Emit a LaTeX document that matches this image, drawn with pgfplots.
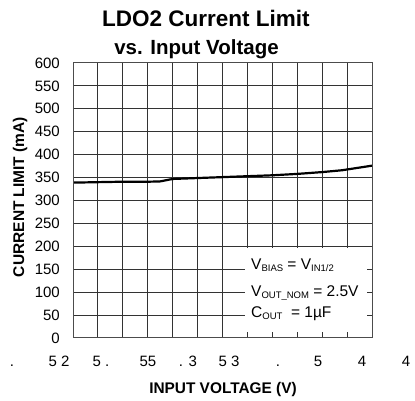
\documentclass[border=0pt]{standalone}
\usepackage{pgfplots}
\pgfplotsset{compat=1.18}
\usepackage{fontspec}
\setmainfont{Liberation Sans}
\pgfplotsset{layers/mine/.define layer set={axis background,axis grid,pre main,main,axis ticks,axis lines,axis tick labels,axis descriptions,axis foreground}{grid style={/pgfplots/on layer=axis grid},tick style={/pgfplots/on layer=axis ticks},axis line style={/pgfplots/on layer=axis lines},label style={/pgfplots/on layer=axis descriptions},legend style={/pgfplots/on layer=axis descriptions},title style={/pgfplots/on layer=axis descriptions},colorbar style={/pgfplots/on layer=axis descriptions},ticklabel style={/pgfplots/on layer=axis tick labels},axis background@ style={/pgfplots/on layer=axis background}}}
\newcommand{\sub}[1]{\raisebox{-1.5pt}{\fontsize{9.5}{9.5}\selectfont #1}}
\begin{document}
\begin{tikzpicture}[x=1pt,y=1pt]
\path (0,0) rectangle (415,401);
\begin{axis}[at={(73pt,63pt)},anchor=south west,scale only axis,width=299pt,height=275pt,
 set layers=mine,
 xmin=2.5,xmax=5.5,ymin=0,ymax=600,
 xtick={2.5,2.75,3,3.25,3.5,3.75,4,4.25,4.5,4.75,5,5.25,5.5}, xticklabels={},
 ytick={0,50,100,150,200,250,300,350,400,450,500,550,600},
 grid=major, major grid style={black!80,line width=1pt},
 axis line style={black!70,line width=1pt},
 tick style={black!80,line width=1pt}, major tick length=5pt, tick align=inside,
 yticklabel style={font=\fontsize{15}{15}\selectfont, inner sep=0pt, xshift=-13pt},
 /pgf/number format/assume math mode=true,
]
\fill[white] (axis cs:4.23,12) rectangle (axis cs:5.45,196);
\addplot[black,line width=2.2pt] coordinates {(2.5,339)(2.75,340)(3.0,341)(3.25,341)(3.37,341.5)(3.5,347)(3.75,349)(4.0,351)(4.25,353)(4.5,355)(4.75,358)(5.0,362)(5.2,366)(5.5,376)};
\end{axis}
\node[anchor=base,font=\fontsize{22.5}{22.5}\selectfont\bfseries] at (206,374) {LDO2 Current Limit};
\node[anchor=base,font=\fontsize{20.5}{20.5}\selectfont\bfseries] at (196.5,346) {vs. Input Voltage};
\node[rotate=90,font=\fontsize{15.5}{15.5}\selectfont\bfseries] at (20,204) {CURRENT LIMIT (mA)};
\node[anchor=base,font=\fontsize{15.4}{15.4}\selectfont\bfseries] at (223,7) {INPUT VOLTAGE (V)};
\begin{scope}[every node/.style={anchor=base,font=\fontsize{15}{15}\selectfont,inner sep=0pt}]
\node at (12,34) {.};
\node at (59,34) {5 2};
\node at (101,34) {5 .};
\node at (148,34) {55};
\node at (188,34) {. 3};
\node at (229,34) {5 3};
\node at (278,34) {.};
\node at (318,34) {5};
\node at (362,34) {4};
\node at (406,34) {4};
\end{scope}
\begin{scope}[every node/.style={anchor=base west,font=\fontsize{15.5}{15.5}\selectfont,inner sep=0pt}]
\node at (251,131) {V\sub{BIAS} = V\sub{IN1/2}};
\node at (251,104) {V\sub{OUT\_NOM} = 2.5V};
\node at (251,83) {C\sub{OUT} \ = 1µF};
\end{scope}
\end{tikzpicture}
\end{document}
